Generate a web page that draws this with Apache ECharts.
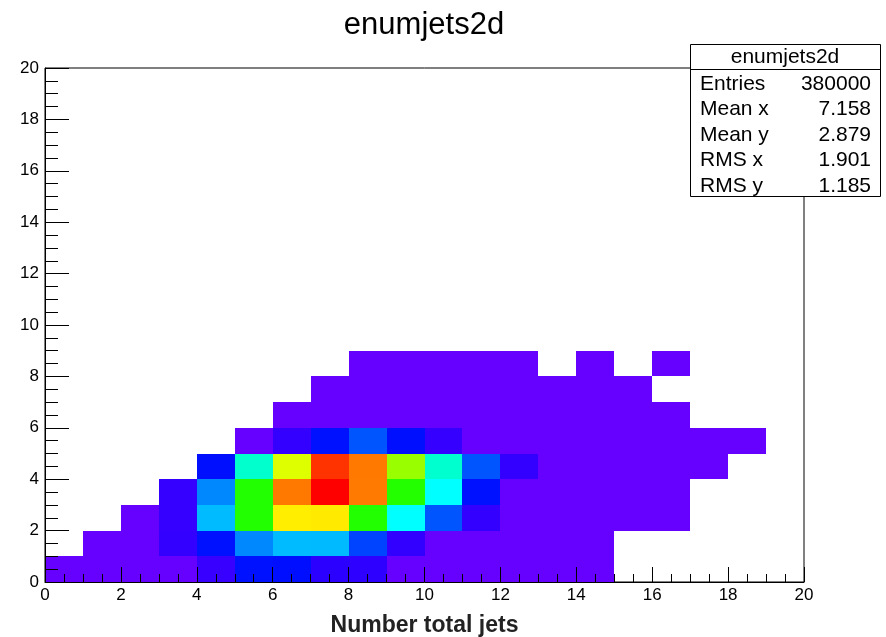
<!DOCTYPE html>
<html>
<head>
<meta charset="utf-8">
<title>enumjets2d</title>
<script src="https://cdn.jsdelivr.net/npm/echarts@6/dist/echarts.min.js"></script>
<style>
  html, body { margin: 0; padding: 0; background: #fff; }
  #chart { width: 886px; height: 637px; }
</style>
</head>
<body>
<div id="chart"></div>
<script type="text/javascript">
// bin counts per y row (y bin j covers [j, j+1]), index = x bin (0..19)
var row0 = [60, 110, 180, 300, 1450, 2970, 2900, 1700, 1650, 420, 320, 220, 140, 70, 30, 0, 0, 0, 0, 0];
var row1 = [0, 40, 150, 1550, 2970, 5470, 6540, 6500, 4040, 1600, 430, 290, 170, 80, 25, 0, 0, 0, 0, 0];
var row2 = [0, 0, 60, 1500, 6540, 14020, 19010, 19100, 14000, 7960, 4400, 1550, 440, 230, 110, 40, 8, 0, 0, 0];
var row3 = [0, 0, 0, 1500, 5470, 14020, 21500, 24000, 21450, 14050, 7960, 2970, 460, 250, 120, 45, 10, 0, 0, 0];
var row4 = [0, 0, 0, 0, 2950, 9030, 17940, 22930, 21500, 16520, 9000, 4400, 1550, 380, 170, 70, 20, 4, 0, 0];
var row5 = [0, 0, 0, 0, 0, 200, 1550, 2970, 4400, 2950, 1500, 440, 300, 180, 90, 40, 15, 5, 2, 0];
var row6 = [0, 0, 0, 0, 0, 0, 30, 90, 170, 220, 190, 130, 70, 35, 15, 6, 2, 0, 0, 0];
var row7 = [0, 0, 0, 0, 0, 0, 0, 8, 20, 30, 25, 18, 10, 5, 3, 1, 0, 0, 0, 0];
var row8 = [0, 0, 0, 0, 0, 0, 0, 0, 2, 3, 3, 2, 1, 0, 1, 0, 1, 0, 0, 0];
var rows = [row0, row1, row2, row3, row4, row5, row6, row7, row8];

var statNames = ['Entries', 'Mean x', 'Mean y', 'RMS x', 'RMS y'];
var statValues = ['380000', '7.158', '2.879', '1.901', '1.185'];

var font = '"Liberation Sans", Arial, Helvetica, sans-serif';

// ROOT rainbow palette: hue 264 (violet) down to 0 (red), full saturation
function hueHex(h) {
    var r, g, b, f;
    if (h >= 240) { f = (h - 240) / 60; r = f; g = 0; b = 1; }
    else if (h >= 180) { f = (240 - h) / 60; r = 0; g = f; b = 1; }
    else if (h >= 120) { f = (h - 120) / 60; r = 0; g = 1; b = f; }
    else if (h >= 60) { f = (120 - h) / 60; r = f; g = 1; b = 0; }
    else { f = h / 60; r = 1; g = f; b = 0; }
    function hx(v) { var s = Math.round(v * 255).toString(16); return s.length < 2 ? '0' + s : s; }
    return '#' + hx(r) + hx(g) + hx(b);
}
var palette = [];
for (var h = 264; h >= 0; h -= 6) palette.push(hueHex(h));

var cells = [];
rows.forEach(function (r, j) {
    r.forEach(function (v, i) {
        if (v > 0) cells.push([i, j, v]);
    });
});

var myChart = echarts.init(document.getElementById('chart'));

// stats box
var boxX = 690, boxY = 44, boxW = 190, boxH = 152;
var stats = [
    { type: 'rect', shape: { x: boxX + 0.5, y: boxY + 0.5, width: boxW, height: boxH },
      style: { fill: '#fff', stroke: '#000', lineWidth: 1 } },
    { type: 'line', shape: { x1: boxX, y1: 69.5, x2: boxX + boxW, y2: 69.5 },
      style: { stroke: '#000', lineWidth: 1 } },
    { type: 'text', x: boxX + boxW / 2, y: 57,
      style: { text: 'enumjets2d', font: '21px ' + font, fill: '#000', align: 'center', verticalAlign: 'middle' } }
];
statNames.forEach(function (n, k) {
    var yy = 84 + k * 25.5;
    stats.push({ type: 'text', x: 700, y: yy,
        style: { text: n, font: '21px ' + font, fill: '#000', align: 'left', verticalAlign: 'middle' } });
    stats.push({ type: 'text', x: 871, y: yy,
        style: { text: statValues[k], font: '21px ' + font, fill: '#000', align: 'right', verticalAlign: 'middle' } });
});

var option = {
    animation: false,
    backgroundColor: '#fff',
    textStyle: { fontFamily: font },
    title: {
        text: 'enumjets2d',
        left: 419, top: 5,
        textAlign: 'center',
        textStyle: { fontSize: 31, fontWeight: 'normal', color: '#000', fontFamily: font }
    },
    grid: {
        left: 45, top: 68, right: 82, bottom: 55,
        outerBoundsMode: 'none',
        containLabel: false,
        show: true, borderColor: '#000', borderWidth: 1, backgroundColor: '#fff'
    },
    visualMap: {
        show: false,
        type: 'continuous',
        dimension: 2,
        min: 480,
        max: 24000,
        inRange: { color: palette },
        outOfRange: { color: '#6600ff' }
    },
    xAxis: {
        type: 'value', min: 0, max: 20, interval: 2, z: 10,
        axisLine: { onZero: false, lineStyle: { color: '#000', width: 1 } },
        axisTick: { inside: true, length: 15, lineStyle: { color: '#000' } },
        minorTick: { show: true, splitNumber: 4, length: 8, lineStyle: { color: '#000' } },
        splitLine: { show: false },
        axisLabel: { color: '#000', fontSize: 17, margin: 5, fontFamily: font,
                     showMinLabel: true, showMaxLabel: true },
        name: 'Number total jets',
        nameLocation: 'middle',
        nameGap: 32,
        nameTextStyle: { fontWeight: 'bold', fontSize: 23, color: '#222', fontFamily: font }
    },
    yAxis: {
        type: 'value', min: 0, max: 20, interval: 2, z: 10,
        axisLine: { onZero: false, lineStyle: { color: '#000', width: 1 } },
        axisTick: { inside: true, length: 24, lineStyle: { color: '#000' } },
        minorTick: { show: true, splitNumber: 4, length: 13, lineStyle: { color: '#000' } },
        splitLine: { show: false },
        axisLabel: { color: '#000', fontSize: 17, margin: 6, fontFamily: font,
                     showMinLabel: true, showMaxLabel: true }
    },
    series: [{
        type: 'custom',
        name: 'enumjets2d',
        encode: { x: 0, y: 1 },
        data: cells,
        renderItem: function (params, api) {
            var x = api.value(0), y = api.value(1);
            var p0 = api.coord([x, y + 1]);
            var p1 = api.coord([x + 1, y]);
            var x0 = Math.round(p0[0]), y0 = Math.round(p0[1]);
            var x1 = Math.round(p1[0]), y1 = Math.round(p1[1]);
            return {
                type: 'rect',
                shape: { x: x0, y: y0, width: x1 - x0, height: y1 - y0 },
                style: { fill: api.visual('color'), stroke: null }
            };
        }
    }],
    graphic: [{ type: 'group', z: 100, children: stats }]
};

myChart.setOption(option);
</script>
</body>
</html>
